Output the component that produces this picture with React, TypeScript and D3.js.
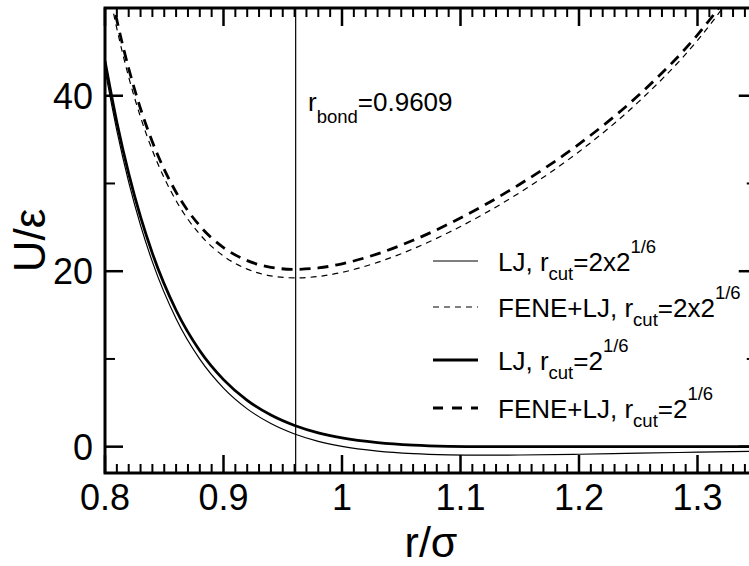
import React from 'react';
import * as d3 from 'd3';

// r/sigma sample positions
const rValues = [0.80, 0.81, 0.82, 0.83, 0.84, 0.86, 0.88, 0.90, 0.92, 0.94, 0.96, 0.98, 1.00, 1.03, 1.06, 1.09, 1.12, 1.15, 1.20, 1.25, 1.30, 1.35];
// LJ, r_cut = 2x2^(1/6)  (thin solid)
const ljLongCut = [42.98, 36.02, 30.15, 25.22, 21.06, 14.58, 9.97, 6.67, 4.31, 2.64, 1.45, 0.61, 0.03, -0.51, -0.80, -0.93, -0.97, -0.95, -0.86, -0.74, -0.63, -0.52];
// FENE+LJ, r_cut = 2x2^(1/6)  (thin dashed)
const feneLongCut = [54.28, 47.65, 42.13, 37.56, 33.76, 28.03, 24.20, 21.73, 20.24, 19.47, 19.24, 19.40, 19.87, 21.01, 22.55, 24.41, 26.55, 28.96, 33.62, 39.27, 46.31, 55.53];
// LJ, r_cut = 2^(1/6)  (thick solid)
const ljShortCut = [43.95, 36.98, 31.12, 26.19, 22.03, 15.55, 10.93, 7.64, 5.28, 3.61, 2.42, 1.58, 1.00, 0.46, 0.17, 0.04, 0.00, 0, 0, 0, 0, 0];
// FENE+LJ, r_cut = 2^(1/6)  (thick dashed)
const feneShortCut = [55.25, 48.62, 43.10, 38.52, 34.73, 29.00, 25.17, 22.70, 21.21, 20.44, 20.21, 20.37, 20.84, 21.98, 23.52, 25.38, 27.52, 29.91, 34.48, 40.02, 46.94, 56.05];

const xMajorTicks = [0.8, 0.9, 1.0, 1.1, 1.2, 1.3];
const xTickLabels = ['0.8', '0.9', '1', '1.1', '1.2', '1.3'];
const yMajorTicks = [0, 20, 40];
const yTickLabels = ['0', '20', '40'];
const yMinorTicks = [10, 30];
const rBond = 0.9609;

const FONT = '"Liberation Sans", Arial, Helvetica, sans-serif';

export default function App() {
  const W = 749, H = 566;
  const left = 105, right = 756.75, top = 8, bottom = 473;
  const x = d3.scaleLinear().domain([0.8, 1.35]).range([left, right]);
  const y = d3.scaleLinear().domain([-3, 50]).range([bottom, top]);

  const line = d3.line<number>()
    .x((_, i) => x(rValues[i]))
    .y((d) => y(d))
    .curve(d3.curveMonotoneX);

  const xMinor = x.ticks(55).filter(t => !xMajorTicks.some(m => Math.abs(m - t) < 1e-6));

  const series = [
    { data: ljLongCut, w: 1.2, dash: undefined },
    { data: feneLongCut, w: 1.2, dash: '6,5' },
    { data: ljShortCut, w: 2.8, dash: undefined },
    { data: feneShortCut, w: 2.8, dash: '11,7' },
  ];

  const legendRows = [
    { base: 271, w: 1.2, dash: undefined, pre: 'LJ, r', mid: '=2x2' },
    { base: 317, w: 1.2, dash: '6,5', pre: 'FENE+LJ, r', mid: '=2x2' },
    { base: 370, w: 2.8, dash: undefined, pre: 'LJ, r', mid: '=2' },
    { base: 418, w: 2.8, dash: '10,9', pre: 'FENE+LJ, r', mid: '=2' },
  ];

  return (
    <svg width={W} height={H} style={{ position: 'absolute', left: 0, top: 0, background: '#fff' }} fontFamily={FONT}>
      <defs>
        <clipPath id="plotClip">
          <rect x={left} y={top} width={right - left} height={bottom - top} />
        </clipPath>
      </defs>
      <rect x={0} y={0} width={W} height={H} fill="#fff" />
      <g clipPath="url(#plotClip)">
        {series.map((s, i) => (
          <path key={i} d={line(s.data) || ''} fill="none" stroke="#000" strokeWidth={s.w} strokeDasharray={s.dash} />
        ))}
        <line x1={x(rBond)} x2={x(rBond)} y1={top} y2={bottom} stroke="#000" strokeWidth={1.2} />
      </g>

      {/* frame */}
      <rect x={left} y={top} width={right - left} height={bottom - top} fill="none" stroke="#000" strokeWidth={3} />

      {/* x ticks */}
      {xMajorTicks.map((t, i) => (
        <g key={'xm' + i}>
          <line x1={x(t)} x2={x(t)} y1={bottom} y2={bottom - 18} stroke="#000" strokeWidth={2.5} />
          <line x1={x(t)} x2={x(t)} y1={top} y2={top + 18} stroke="#000" strokeWidth={2.5} />
          <text x={x(t)} y={510} textAnchor="middle" fontSize={36}>{xTickLabels[i]}</text>
        </g>
      ))}
      {xMinor.map((t, i) => (
        <g key={'xn' + i}>
          <line x1={x(t)} x2={x(t)} y1={bottom} y2={bottom - 9} stroke="#000" strokeWidth={2} />
          <line x1={x(t)} x2={x(t)} y1={top} y2={top + 9} stroke="#000" strokeWidth={2} />
        </g>
      ))}

      {/* y ticks */}
      {yMajorTicks.map((t, i) => (
        <g key={'ym' + i}>
          <line x1={left} x2={left + 18} y1={y(t)} y2={y(t)} stroke="#000" strokeWidth={2.5} />
          <line x1={right} x2={right - 18} y1={y(t)} y2={y(t)} stroke="#000" strokeWidth={2.5} />
          <text x={93} y={y(t)} dy="0.36em" textAnchor="end" fontSize={36}>{yTickLabels[i]}</text>
        </g>
      ))}
      {yMinorTicks.map((t, i) => (
        <g key={'yn' + i}>
          <line x1={left} x2={left + 10} y1={y(t)} y2={y(t)} stroke="#000" strokeWidth={2} />
          <line x1={right} x2={right - 10} y1={y(t)} y2={y(t)} stroke="#000" strokeWidth={2} />
        </g>
      ))}

      {/* axis titles */}
      <text x={431} y={557} textAnchor="middle" fontSize={43}>r/σ</text>
      <text transform={`translate(45,${(top + bottom) / 2}) rotate(-90)`} textAnchor="middle" fontSize={44}>U/ε</text>

      {/* annotation */}
      <text x={308} y={111} fontSize={26}>
        r<tspan fontSize={18.5} dy={12}>bond</tspan><tspan dy={-12}>=0.9609</tspan>
      </text>

      {/* legend */}
      {legendRows.map((r, i) => (
        <g key={'lg' + i}>
          <line x1={433} x2={478} y1={r.base - 10} y2={r.base - 10} stroke="#000" strokeWidth={r.w} strokeDasharray={r.dash} />
          <text x={498} y={r.base} fontSize={26}>
            {r.pre}<tspan fontSize={18.5} dy={9}>cut</tspan><tspan dy={-9}>{r.mid}</tspan><tspan fontSize={18.5} dy={-18}>1/6</tspan>
          </text>
        </g>
      ))}
    </svg>
  );
}
